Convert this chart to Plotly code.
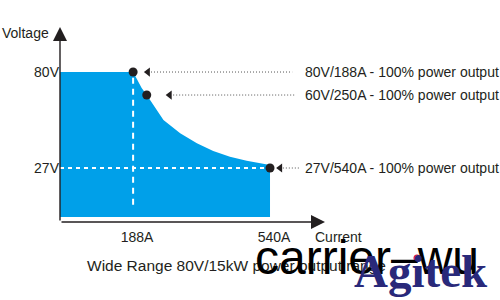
import plotly.graph_objects as go

# ---- data ----
current_ticks = [188, 540]
current_tick_labels = ["188A", "540A"]
voltage_ticks = [80, 27]
voltage_tick_labels = ["80V", "27V"]

# outline of the output range (current A, voltage V)
envelope_current = [0, 0, 188, 201, 210, 223, 244, 266, 309, 352, 394, 437, 480, 523, 540, 540]
envelope_voltage = [0, 80, 80, 74.7, 71.2, 67.3, 60.9, 53.5, 46.2, 40.6, 36.4, 33.2, 31.0, 29.4, 28.7, 0]

point_current = [188, 223, 540]
point_voltage = [80, 67.3, 27]
point_labels = ["80V/188A - 100% power output",
                "60V/250A - 100% power output",
                "27V/540A - 100% power output"]

# ---- layout constants ----
X_RANGE = [0, 681.4]
Y_RANGE = [-2.82, 104.86]
pointer_tri_x = [226, 282, 566]
pointer_line_x0 = [234, 291, 573]
pointer_line_x1 = [597, 607, 615]
label_x = 625

FONT = "Liberation Sans, Arial, sans-serif"
INK = "#231f20"
BLUE = "#00a0e9"


def px_x(p):  # page pixel -> paper fraction
    return (p - 60) / 265


def px_y(p):
    return (222 - p) / 195


fig = go.Figure()

fig.add_trace(go.Scatter(
    x=envelope_current, y=envelope_voltage, mode="lines",
    fill="toself", fillcolor=BLUE, line=dict(color=BLUE, width=0),
    hoverinfo="skip", showlegend=False))

# white dashed guide lines
fig.add_trace(go.Scatter(
    x=[current_ticks[0], current_ticks[0]], y=[voltage_ticks[0] - 3.2, 5.5], mode="lines",
    line=dict(color="white", width=2, dash="6px,5px"), showlegend=False, hoverinfo="skip"))
fig.add_trace(go.Scatter(
    x=[0, current_ticks[1]], y=[voltage_ticks[1], voltage_ticks[1]], mode="lines",
    line=dict(color="white", width=2, dash="4px,4px"), showlegend=False, hoverinfo="skip"))

# pointer triangles
fig.add_trace(go.Scatter(
    x=pointer_tri_x, y=point_voltage, mode="markers",
    marker=dict(symbol="triangle-left", size=8, color=INK),
    showlegend=False, cliponaxis=False, hoverinfo="skip"))

# operating points
fig.add_trace(go.Scatter(
    x=point_current, y=point_voltage, mode="markers",
    marker=dict(symbol="circle", size=9, color=INK),
    showlegend=False, cliponaxis=False))

shapes = []
# dotted pointer lines
for v, a0, a1 in zip(point_voltage, pointer_line_x0, pointer_line_x1):
    shapes.append(dict(type="line", xref="x", yref="y", x0=a0, x1=a1, y0=v, y1=v,
                       line=dict(color="#555555", width=1, dash="1px,2px")))

annotations = []
# axes with arrowheads
annotations.append(dict(x=X_RANGE[1], y=Y_RANGE[0], ax=X_RANGE[0], ay=Y_RANGE[0],
                        xref="x", yref="y", axref="x", ayref="y", text="",
                        showarrow=True, arrowhead=2, arrowsize=2, arrowwidth=1.4,
                        arrowcolor=INK, standoff=0))
annotations.append(dict(x=X_RANGE[0], y=Y_RANGE[1], ax=X_RANGE[0], ay=Y_RANGE[0],
                        xref="x", yref="y", axref="x", ayref="y", text="",
                        showarrow=True, arrowhead=2, arrowsize=2, arrowwidth=1.4,
                        arrowcolor=INK, standoff=0))
# point labels
for v, t in zip(point_voltage, point_labels):
    annotations.append(dict(x=label_x, y=v, xref="x", yref="y", text=t, showarrow=False,
                            xanchor="left", yanchor="middle",
                            font=dict(family=FONT, size=14, color=INK)))
# axis names
annotations.append(dict(x=px_x(0), y=px_y(33), xref="paper", yref="paper", text="Voltage",
                        showarrow=False, xanchor="left", yanchor="middle",
                        font=dict(family=FONT, size=14, color=INK)))
annotations.append(dict(x=px_x(313), y=px_y(237), xref="paper", yref="paper", text="Current",
                        showarrow=False, xanchor="left", yanchor="middle",
                        font=dict(family=FONT, size=14, color=INK)))
# caption
annotations.append(dict(x=px_x(236.5), y=px_y(265), xref="paper", yref="paper",
                        text="Wide Range 80V/15kW power output range",
                        showarrow=False, xanchor="center", yanchor="middle",
                        font=dict(family=FONT, size=15.5, color=INK)))
# watermarks
annotations.append(dict(x=px_x(253), y=px_y(257.4), xref="paper", yref="paper",
                        text="carrier\u2013wu", showarrow=False, xanchor="left", yanchor="middle",
                        font=dict(family=FONT, size=48, color="black")))
annotations.append(dict(x=px_x(352), y=px_y(271), xref="paper", yref="paper",
                        text="<b>Agitek</b>", showarrow=False, xanchor="left", yanchor="middle",
                        font=dict(family="Liberation Serif, Times New Roman, serif", size=47,
                                  color="#29297a")))
shapes.append(dict(type="circle", xref="paper", yref="paper",
                   x0=px_x(413.5), x1=px_x(420.5), y0=px_y(261.5), y1=px_y(254.5),
                   fillcolor="#e0202a", line=dict(width=0)))

fig.update_layout(
    width=500, height=300,
    margin=dict(l=60, r=175, t=27, b=78),
    paper_bgcolor="white", plot_bgcolor="white",
    shapes=shapes, annotations=annotations,
    xaxis=dict(range=X_RANGE, showgrid=False, zeroline=False, showline=False,
               tickvals=current_ticks, ticktext=current_tick_labels, ticks="",
               tickfont=dict(family=FONT, size=14, color=INK), ticklabelshift=4,
               ticklabelstandoff=5),
    yaxis=dict(range=Y_RANGE, showgrid=False, zeroline=False, showline=False,
               tickvals=voltage_ticks, ticktext=voltage_tick_labels, ticks="",
               tickfont=dict(family=FONT, size=14, color=INK)),
)

fig.write_html("out.html")
